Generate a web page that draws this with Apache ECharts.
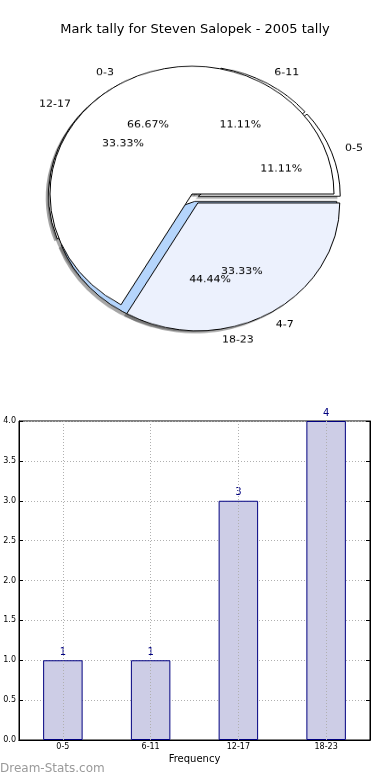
<!DOCTYPE html>
<html><head><meta charset="utf-8">
<script src="https://cdn.jsdelivr.net/npm/echarts@6/dist/echarts.min.js"></script>
<style>
html,body{margin:0;padding:0;background:#fff;}
#main{position:absolute;left:0;top:0;width:390px;height:780px;}
#pie{position:absolute;left:0;top:0;width:390px;height:400px;transform:scaleY(0.9);transform-origin:0 194px;}
</style></head><body>
<div id="main"></div><div id="pie"></div>
<script>
// ---- data ----
const titleText = 'Mark tally for Steven Salopek - 2005 tally';
const hourBins = ['0-5', '6-11', '12-17', '18-23'];
const hourCounts = [1, 1, 3, 4];
const hourColors = ['#ffffff', '#ffffff', '#ffffff', '#b5d5fc'];
const splitBins = ['0-3', '4-7'];
const splitCounts = [6, 3];
const splitColors = ['#ffffff', '#ecf1fd'];
const splitExploded = [false, true];
const yMin = 0, yMax = 4, yStep = 0.5;
const xAxisName = 'Frequency';
const watermark = 'Dream-Stats.com';

// ---- pie (ellipse via vertical scale, as in the reference) ----
const FONT = 'DejaVu Sans';
const R = 142;
const CENTER_B = [192, 194];
const CENTER_A = [194, 197.9];
const SH = 2.8;           // shadow offset
const OFF_A = 4.5, OFF_B = 11.5;
const totalA = hourCounts.reduce((a, b) => a + b, 0);
const totalB = splitCounts.reduce((a, b) => a + b, 0);
const allSel = hourBins.map(() => true);

function items(cats, vals, colors, sel) {
  return cats.map((c, i) => ({name: c, value: vals[i], selected: sel[i],
    itemStyle: colors ? {color: colors[i]} : undefined}));
}
function base(extra) {
  return Object.assign({
    type: 'pie', radius: [0, R], startAngle: 0, clockwise: false,
    selectedMode: 'multiple', avoidLabelOverlap: false, animation: false,
    emphasis: {disabled: true}, silent: true,
    labelLayout: {hideOverlap: false},
    labelLine: {show: false, length: R * 0.1, length2: 0}
  }, extra);
}
const nameLabel = {show: true, position: 'outside', formatter: '{b}', fontSize: 11, color: '#000',
  fontFamily: FONT, distanceToLabelLine: 0};
function pctLabel(total) {
  return {show: true, position: 'inside', fontSize: 11, color: '#000', fontFamily: FONT,
    formatter: p => (p.value / total * 100).toFixed(2) + '%'};
}
const clear = {color: 'rgba(0,0,0,0)', borderWidth: 0};
const shadowFill = {color: 'rgba(77,77,77,0.5)', borderWidth: 0};

const pieSeries = [
  // shadows (drawn below every wedge)
  base({center: [CENTER_A[0] - SH, CENTER_A[1] + SH], selectedOffset: OFF_A,
    data: items(hourBins, hourCounts, null, allSel), itemStyle: shadowFill, label: {show: false}}),
  base({center: [CENTER_B[0] - SH, CENTER_B[1] + SH], selectedOffset: OFF_B,
    data: items(splitBins, splitCounts, null, splitExploded), itemStyle: shadowFill, label: {show: false}}),
  // wedges
  base({center: CENTER_A, selectedOffset: OFF_A, data: items(hourBins, hourCounts, hourColors, allSel),
    itemStyle: {borderColor: '#000', borderWidth: 1}, label: nameLabel}),
  base({center: CENTER_B, selectedOffset: OFF_B, data: items(splitBins, splitCounts, splitColors, splitExploded),
    itemStyle: {borderColor: '#000', borderWidth: 1}, label: nameLabel}),
  // percentage labels at 0.6 R
  base({center: CENTER_A, selectedOffset: OFF_A, radius: [0, R * 1.2],
    data: items(hourBins, hourCounts, null, allSel), itemStyle: clear, label: pctLabel(totalA)}),
  base({center: CENTER_B, selectedOffset: OFF_B, radius: [0, R * 1.2],
    data: items(splitBins, splitCounts, null, splitExploded), itemStyle: clear, label: pctLabel(totalB)})
];
const pie = echarts.init(document.getElementById('pie'), null, {renderer: 'canvas'});
pie.setOption({animation: false, series: pieSeries});

// ---- title, bar chart ----
const dotted = {color: '#b0b0b0', type: [1, 2], width: 1};
const main = echarts.init(document.getElementById('main'), null, {renderer: 'canvas'});
main.setOption({
  animation: false,
  backgroundColor: '#fff',
  title: {text: titleText, left: 'center', top: 23, padding: 0,
    textStyle: {fontSize: 13, fontWeight: 'normal', color: '#000', fontFamily: FONT}},
  graphic: [{type: 'text', left: 0, top: 763, silent: true,
    style: {text: watermark, fill: '#9a9a9a', fontSize: 12, fontFamily: FONT}}],
  grid: {left: 19, top: 421, width: 351, height: 319, show: true, borderColor: '#000', borderWidth: 1,
    backgroundColor: 'transparent'},
  xAxis: [
    {type: 'category', data: hourBins, position: 'bottom', boundaryGap: true,
     name: xAxisName, nameLocation: 'middle', nameGap: 14,
     nameTextStyle: {fontSize: 10, color: '#000', fontFamily: FONT},
     axisLine: {lineStyle: {color: '#000'}},
     axisTick: {inside: true, alignWithLabel: true, length: 4, lineStyle: {color: '#000'}},
     axisLabel: {fontSize: 8, color: '#000', margin: 3, fontFamily: FONT},
     splitLine: {show: false}},
    {type: 'category', data: hourBins, position: 'top', boundaryGap: true,
     axisLine: {lineStyle: {color: '#000'}},
     axisTick: {inside: true, alignWithLabel: true, length: 4, lineStyle: {color: '#000'}},
     axisLabel: {show: false}, splitLine: {show: false}}
  ],
  yAxis: [
    {type: 'value', min: yMin, max: yMax, interval: yStep, position: 'left',
     axisLine: {show: true, lineStyle: {color: '#000'}},
     axisTick: {show: true, inside: true, length: 4, lineStyle: {color: '#000'}},
     axisLabel: {fontSize: 8, color: '#000', margin: 3, fontFamily: FONT, formatter: v => v.toFixed(1)},
     splitLine: {show: true, lineStyle: dotted}},
    {type: 'value', min: yMin, max: yMax, interval: yStep, position: 'right',
     axisLine: {show: true, lineStyle: {color: '#000'}},
     axisTick: {show: true, inside: true, length: 4, lineStyle: {color: '#000'}},
     axisLabel: {show: false}, splitLine: {show: false}}
  ],
  series: [{
    type: 'bar', data: hourCounts, barWidth: '45%', xAxisIndex: 0, yAxisIndex: 0,
    itemStyle: {color: '#cdcde6', borderColor: '#000080', borderWidth: 1},
    label: {show: true, position: 'top', distance: 3, color: '#000080', fontSize: 10, fontFamily: FONT},
    emphasis: {disabled: true}, silent: true,
    markLine: {silent: true, symbol: ['none', 'none'], label: {show: false}, animation: false,
      lineStyle: dotted, data: hourBins.map(c => ({xAxis: c}))}
  }]
});
</script>
</body></html>
